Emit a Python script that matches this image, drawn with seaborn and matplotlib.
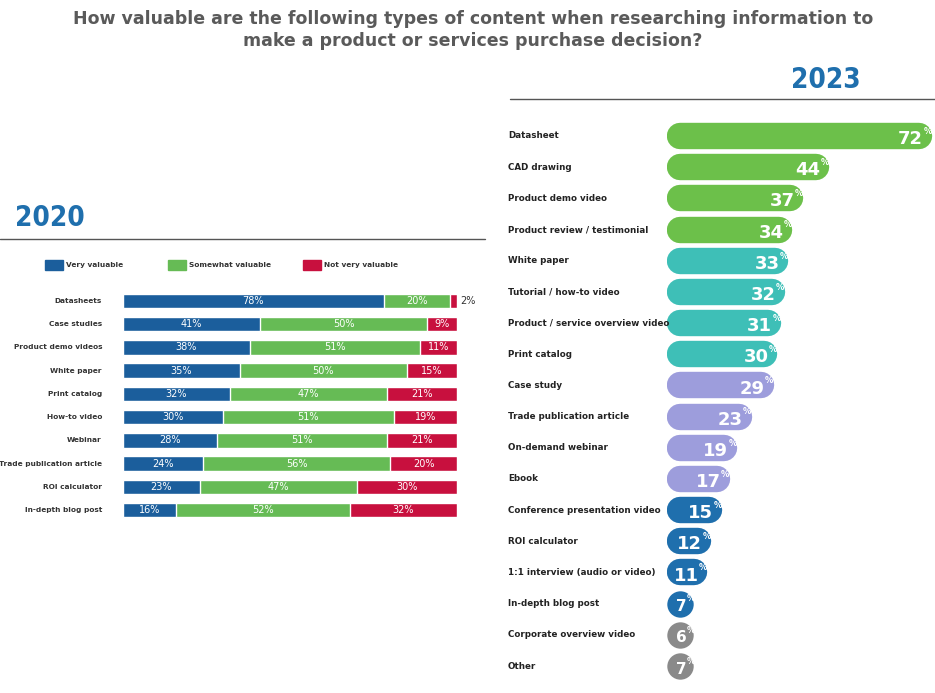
import matplotlib
matplotlib.use("Agg")
import matplotlib.pyplot as plt
import matplotlib.transforms as mtransforms
import seaborn as sns
import pandas as pd
import numpy as np

sns.set_theme(style="white")
plt.rcParams['font.family'] = ['DejaVu Sans']

title = "How valuable are the following types of content when researching information to\nmake a product or services purchase decision?"

# 2020 survey
items_2020 = ["Datasheets", "Case studies", "Product demo videos", "White paper", "Print catalog",
              "How-to video", "Webinar", "Trade publication article", "ROI calculator", "In-depth blog post"]
very_2020 = [78, 41, 38, 35, 32, 30, 28, 24, 23, 16]
somewhat_2020 = [20, 50, 51, 50, 47, 51, 51, 56, 47, 52]
not_2020 = [2, 9, 11, 15, 21, 19, 21, 20, 30, 32]
legend_2020 = ["Very valuable", "Somewhat valuable", "Not very valuable"]

# 2023 survey
items_2023 = ["Datasheet", "CAD drawing", "Product demo video", "Product review / testimonial", "White paper",
              "Tutorial / how-to video", "Product / service overview video", "Print catalog", "Case study",
              "Trade publication article", "On-demand webinar", "Ebook", "Conference presentation video",
              "ROI calculator", "1:1 interview (audio or video)", "In-depth blog post",
              "Corporate overview video", "Other"]
values_2023 = [72, 44, 37, 34, 33, 32, 31, 30, 29, 23, 19, 17, 15, 12, 11, 7, 6, 7]
groups_2023 = ["g", "g", "g", "g", "t", "t", "t", "t", "l", "l", "l", "l", "b", "b", "b", "b", "x", "x"]

W, H = 935, 693
fig = plt.figure(figsize=(W / 100, H / 100), dpi=100)


def px_axes(x0, y0, x1, y1):
    return fig.add_axes([x0 / W, 1 - y1 / H, (x1 - x0) / W, (y1 - y0) / H])


fig.text(473 / W, 1 - 30 / H, title, ha="center", va="center", fontsize=12.5,
         fontweight="bold", color="#5a5a5a", linespacing=1.3)

# ---- 2023 panel ----
fig.text(826 / W, 1 - 80 / H, "2023", ha="center", va="center", fontsize=20,
         fontweight="bold", color="#1f6fad", fontstretch="condensed")
fig.add_artist(plt.Line2D([510 / W, 1], [1 - 99 / H] * 2, color="#555555", lw=1))

cols23 = {"g": "#6cc04a", "t": "#3ebfb7", "l": "#9d9ddc", "b": "#1f6fad", "x": "#8a8a8a"}
df23 = pd.DataFrame({"item": items_2023, "value": values_2023, "group": groups_2023})
ax2 = px_axes(667, 120.4, 935, 681.6)
sns.barplot(data=df23, x="value", y="item", ax=ax2, color="white", width=0.8)
ax2.set_xlim(0, 72.8)
ax2.set_ylim(len(items_2023) - 0.5, -0.5)
ax2.axis("off")
lw = 19
r = 3.55  # cap radius in data units (approx 13px)
for i, (v, g) in enumerate(zip(values_2023, groups_2023)):
    if v > 2 * r + 0.3:
        ax2.plot([r, v - r], [i, i], color=cols23[g], lw=lw, solid_capstyle="round", zorder=3)
        off = 2.4
        end = v
    else:
        ax2.plot([r], [i], marker="o", ms=lw, color=cols23[g], mew=0, zorder=3)
        off = 1.8
        end = 2 * r
    fs = 13 if v >= 10 else 11
    ax2.text(end - off, i + 0.1, str(v), ha="right", va="center", color="white",
             fontsize=fs, fontweight="bold", zorder=4)
    ax2.text(end - off + 0.05, i - 0.15, "%", ha="left", va="center", color="white",
             fontsize=6, fontweight="bold", zorder=4)
lbl_tr = mtransforms.blended_transform_factory(fig.transFigure, ax2.transData)
for i, name in enumerate(items_2023):
    ax2.text(508 / W, i, name, transform=lbl_tr, ha="left", va="center",
             fontsize=6.3, fontweight="bold", color="#222222")

# ---- 2020 panel ----
fig.text(50 / W, 1 - 218 / H, "2020", ha="center", va="center", fontsize=20,
         fontweight="bold", color="#1f6fad", fontstretch="condensed")
fig.add_artist(plt.Line2D([0, 485 / W], [1 - 239 / H] * 2, color="#555555", lw=1))

cols20 = ["#1b5e9c", "#66bb55", "#c8103e"]
ax1 = px_axes(123, 289.4, 457, 521.6)
# stacked bars: draw cumulative totals from the longest segment down
cum = np.cumsum(np.array([very_2020, somewhat_2020, not_2020]), axis=0)
for k in [2, 1, 0]:
    df = pd.DataFrame({"item": items_2020, "value": cum[k]})
    sns.barplot(data=df, x="value", y="item", ax=ax1, color=cols20[k], width=0.62, saturation=1)
left = np.zeros(len(items_2020))
for vals in [very_2020, somewhat_2020, not_2020]:
    for i, (v, l0) in enumerate(zip(vals, left)):
        if v >= 5:
            ax1.text(l0 + v / 2, i, f"{v}%", ha="center", va="center", color="white", fontsize=7)
        else:
            ax1.text(l0 + v + 1, i, f"{v}%", ha="left", va="center", color="#333333", fontsize=7)
    left = left + np.array(vals)
ax1.set_xlim(0, 100)
ax1.set_ylim(len(items_2020) - 0.5, -0.5)
ax1.axis("off")
tr1 = mtransforms.blended_transform_factory(fig.transFigure, ax1.transData)
for i, name in enumerate(items_2020):
    ax1.text(102 / W, i, name, transform=tr1, ha="right", va="center",
             fontsize=5.3, fontweight="bold", color="#333333")

for lx, c, lab in zip([45, 168, 303], cols20, legend_2020):
    fig.patches.append(plt.Rectangle((lx / W, 1 - 270 / H), 18 / W, 10 / H,
                                     transform=fig.transFigure, color=c))
    fig.text((lx + 21) / W, 1 - 265 / H, lab, ha="left", va="center",
             fontsize=5.3, fontweight="bold", color="#333333")

fig.savefig("out.png", dpi=100)
